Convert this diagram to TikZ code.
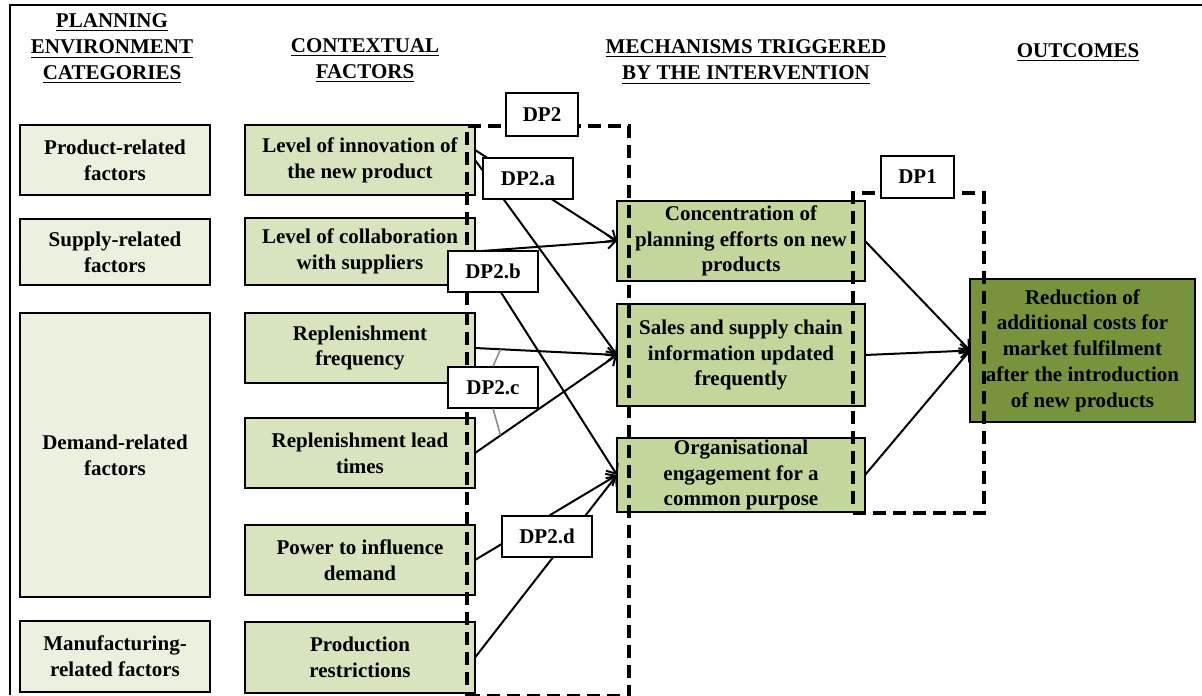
\documentclass[tikz,border=0pt]{standalone}
\usepackage{fontspec}
\setmainfont{Liberation Serif}
\usetikzlibrary{arrows.meta, positioning, fit}
\usepackage{xcolor}

\definecolor{catfill}{HTML}{EBF1DE}
\definecolor{factorfill}{HTML}{D7E4BD}
\definecolor{mechfill}{HTML}{C3D69B}
\definecolor{outfill}{HTML}{77933C}

\begin{document}
\begin{tikzpicture}[x=0.5pt, y=-0.5pt, node distance=12pt,
                box/.style={rectangle, draw=black, line width=1.3pt, align=center, inner sep=2pt, outer sep=0pt, font=\bfseries\fontsize{10.5}{12.9}\selectfont},
                catbox/.style={box, fill=catfill, minimum width=95pt},
                factor/.style={box, fill=factorfill, minimum width=115pt, minimum height=35pt},
                mech/.style={box, fill=mechfill, minimum width=124pt},
                outcome/.style={box, fill=outfill, minimum width=112.5pt, minimum height=71.5pt},
                header/.style={align=center, font=\bfseries\fontsize{10.5}{13}\selectfont},
                dplabel/.style={rectangle, draw=black, fill=white, line width=0.6pt, minimum width=45pt, minimum height=20.5pt, inner sep=0pt, font=\bfseries\fontsize{10.5}{12.5}\selectfont},
                dpframe/.style={rectangle, draw=black, line width=1.7pt, dash pattern=on 6.5pt off 3.5pt, inner sep=0pt},
                arrow/.style={-{Straight Barb[length=4pt,width=7pt]}, line width=1pt},
                link/.style={draw=black!45, line width=0.8pt}]

            \useasboundingbox (0,0) rectangle (1202,695);
            \draw[line width=1pt] (10,695) |- (1202,5);

            % Column headers
            \node[header] (hplan) at (112,49) {\underline{PLANNING}\\\underline{ENVIRONMENT}\\\underline{CATEGORIES}};
            \node[header] (hcontext) at (365,61) {\underline{CONTEXTUAL}\\\underline{FACTORS}};
            \node[header] (hmech) at (746,62) {\underline{MECHANISMS TRIGGERED}\\\underline{BY THE INTERVENTION}};
            \node[header] (hout) at (1078,53) {\underline{OUTCOMES}};

            % Planning environment categories
            \node[catbox, minimum height=35pt] (product) at (115,160) {Product-related\\factors};
            \node[catbox, minimum height=33pt, below=12pt of product] (supply) {Supply-related\\factors};
            \node[catbox, minimum height=142pt, below=14pt of supply] (demand) {Demand-related\\factors};
            \node[catbox, minimum height=35.5pt, below=12pt of demand] (manuf) {Manufacturing-\\related factors};

            % Contextual factors
            \node[factor] (innov) at (360,160) {Level of innovation of\\the new product};
            \node[factor, minimum height=33.5pt, below=11.5pt of innov] (collab) {Level of collaboration\\with suppliers};
            \node[factor, below=14pt of collab] (freq) {Replenishment\\frequency};
            \node[factor, below=17.5pt of freq] (lead) {Replenishment lead\\times};
            \node[factor, below=18.5pt of lead] (power) {Power to influence\\demand};
            \node[factor, minimum height=35.5pt, below=13.5pt of power] (prod) {Production\\restrictions};

            % Mechanisms
            \node[mech, minimum height=40pt] (conc) at (741,241) {Concentration of\\planning efforts on new\\products};
            \node[mech, minimum height=51pt, below=11.5pt of conc] (sales) {Sales and supply chain\\information updated\\frequently};
            \node[mech, minimum height=37pt, inner sep=0.5pt, below=16pt of sales] (org) {Organisational\\engagement for a\\common purpose};

            % Outcome
            \node[outcome] (result) at (1082.5,350.5) {Reduction of\\additional costs for\\market fulfilment\\after the introduction\\of new products};

            % Design proposition frames
            \node[dpframe, fit={(467,126) (629,696)}] (dp2box) {};
            \node[dpframe, fit={(853,193) (984,513)}] (dp1box) {};

            \draw[arrow] ([yshift=5pt]innov.east) -- (conc.west);
            \draw[arrow] (innov.east) -- (sales.west);
            \draw[arrow] (collab.east) -- (conc.west);
            \draw[arrow] (collab.east) -- (org.west);
            \draw[arrow] (freq.east) -- (sales.west);
            \draw[arrow] (lead.east) -- (sales.west);
            \draw[arrow] (power.east) -- (org.west);
            \draw[arrow] (prod.east) -- (org.west);
            \draw[arrow] (conc.east) -- (result.west);
            \draw[arrow] (sales.east) -- (result.west);
            \draw[arrow] (org.east) -- (result.west);

            \path (freq.east) -- (sales.west) coordinate[pos=0.18] (onfreq);
            \path (lead.east) -- (sales.west) coordinate[pos=0.18] (onlead);

            % Labels
            \node[dplabel, minimum width=36pt, minimum height=21.5pt] (dp2) at (542,114.5) {DP2};
            \node[dplabel, minimum width=36.5pt, minimum height=21pt] (dp1) at (917.5,177) {DP1};
            \node[dplabel] (dp2a) at (528,178.5) {DP2.a};
            \node[dplabel] (dp2b) at (493,271.5) {DP2.b};
            \node[dplabel] (dp2c) at (493,387.5) {DP2.c};
            \node[dplabel] (dp2d) at (547,536.5) {DP2.d};

            \draw[link] (dp2c.north) -- (onfreq);
            \draw[link] (dp2c.south) -- (onlead);

        \end{tikzpicture}
\end{document}
